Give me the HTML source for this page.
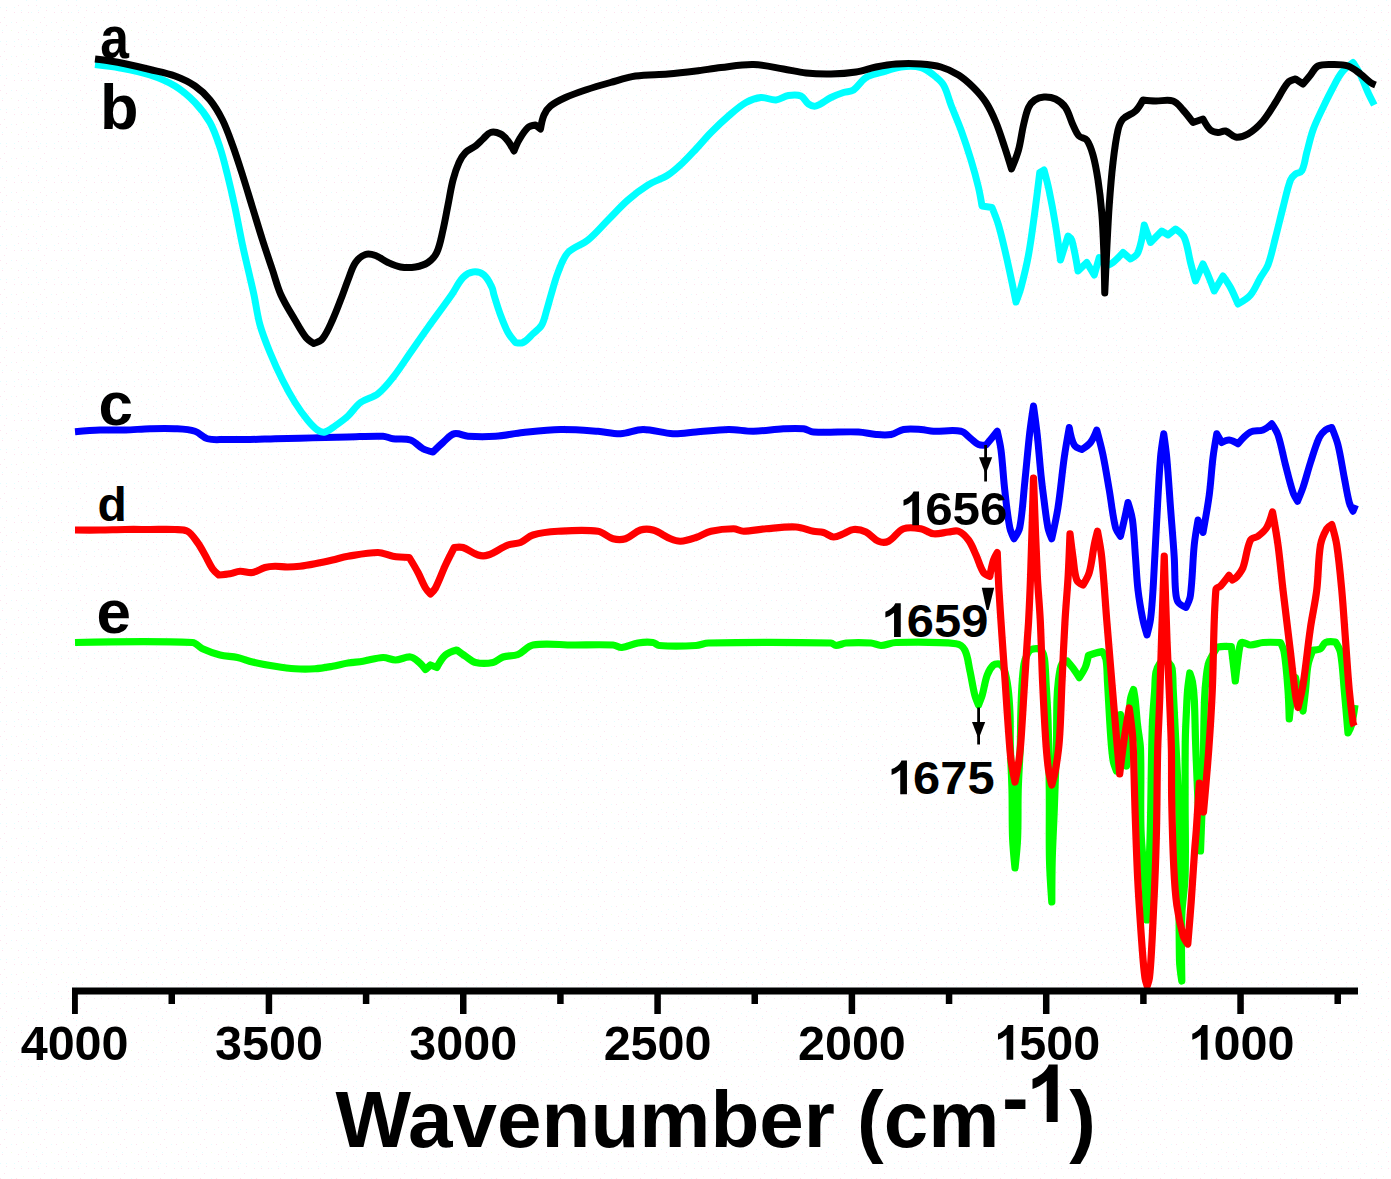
<!DOCTYPE html>
<html><head><meta charset="utf-8"><title>FTIR spectra</title>
<style>
html,body{margin:0;padding:0;background:#ffffff;}
body{width:1391px;height:1179px;overflow:hidden;font-family:"Liberation Sans",sans-serif;}
.b{font-family:"Liberation Sans",sans-serif;font-weight:bold;fill:#000;}
</style></head><body>
<svg width="1391" height="1179" viewBox="0 0 1391 1179" style="display:block">
<defs><pattern id="bg" width="40" height="34" patternUnits="userSpaceOnUse"><rect width="40" height="34" fill="#fff"/><rect x="18" y="5" width="1" height="1" fill="#fde3ef"/><rect x="28" y="5" width="1" height="1" fill="#fde3ef"/><rect x="36" y="5" width="1" height="1" fill="#fde3ef"/><rect x="6" y="10" width="1" height="1" fill="#fde3ef"/><rect x="14" y="12" width="1" height="1" fill="#fde3ef"/><rect x="21" y="12" width="1" height="1" fill="#fde3ef"/><rect x="28" y="12" width="1" height="1" fill="#fde3ef"/><rect x="38" y="12" width="1" height="1" fill="#fde3ef"/><rect x="4" y="17" width="1" height="1" fill="#fde3ef"/><rect x="16" y="22" width="1" height="1" fill="#fde3ef"/><rect x="6" y="25" width="1" height="1" fill="#fde3ef"/><rect x="26" y="30" width="1" height="1" fill="#fde3ef"/><rect x="18" y="32" width="1" height="1" fill="#fde3ef"/><rect x="33" y="32" width="1" height="1" fill="#fde3ef"/><rect x="2" y="32" width="1" height="1" fill="#fde3ef"/><rect x="0" y="22" width="1" height="1" fill="#fde3ef"/><rect x="26" y="0" width="1" height="1" fill="#e3fdff"/><rect x="36" y="0" width="1" height="1" fill="#e3fdff"/><rect x="0" y="7" width="1" height="1" fill="#e3fdff"/><rect x="6" y="7" width="1" height="1" fill="#e3fdff"/><rect x="14" y="7" width="1" height="1" fill="#e3fdff"/><rect x="21" y="10" width="1" height="1" fill="#e3fdff"/><rect x="38" y="10" width="1" height="1" fill="#e3fdff"/><rect x="31" y="12" width="1" height="1" fill="#e3fdff"/><rect x="11" y="22" width="1" height="1" fill="#e3fdff"/><rect x="28" y="25" width="1" height="1" fill="#e3fdff"/><rect x="21" y="27" width="1" height="1" fill="#e3fdff"/><rect x="36" y="27" width="1" height="1" fill="#e3fdff"/><rect x="2" y="30" width="1" height="1" fill="#e3fdff"/><rect x="23" y="20" width="1" height="1" fill="#f0ffe3"/><rect x="33" y="20" width="1" height="1" fill="#f0ffe3"/><rect x="11" y="30" width="1" height="1" fill="#f0ffe3"/></pattern></defs>
<rect width="1391" height="1179" fill="url(#bg)"/>
<path d="M75 642.5 C75.00 642.50 153.38 640.58 192.5 642.5 C196.43 642.69 198.92 647.12 202.5 648.75 C208.14 651.31 213.99 653.50 220 655 C225.72 656.43 231.74 656.26 237.5 657.5 C242.60 658.60 247.42 660.81 252.5 662 C259.93 663.73 267.46 665.05 275 666.25 C281.64 667.30 288.29 668.33 295 668.75 C301.65 669.17 308.35 669.19 315 668.75 C320.88 668.36 326.69 667.26 332.5 666.25 C337.70 665.34 342.79 663.85 348 663 C352.97 662.19 358.03 662.03 363 661.25 C369.70 660.20 376.22 657.76 383 657.5 C387.25 657.34 391.25 660.08 395.5 660 C400.60 659.91 405.43 656.47 410.5 657 C413.93 657.36 416.60 660.29 419.25 662.5 C421.65 664.50 425.50 669.50 425.5 669.5 C425.50 669.50 430.50 665.00 430.5 665 C430.50 665.00 436.75 667.50 436.75 667.5 C436.75 667.50 441.67 658.35 445.5 655 C448.59 652.30 456.75 650.00 456.75 650 C456.75 650.00 462.52 654.26 465.5 656.25 C468.77 658.43 471.67 661.63 475.5 662.5 C481.19 663.79 487.28 663.64 493 662.5 C496.73 661.75 499.38 658.16 503 657 C507.83 655.46 513.29 656.38 518 654.5 C523.50 652.30 527.17 646.01 533 645 C546.14 642.73 559.67 645.00 573 645 C586.33 645.00 599.68 644.32 613 645 C616.03 645.16 618.73 647.74 621.75 647.5 C627.35 647.05 632.45 643.89 638 643 C642.94 642.21 648.03 641.92 653 642.5 C655.30 642.77 656.94 645.34 659.25 645.5 C671.47 646.35 683.77 646.12 696 645.5 C700.24 645.28 704.25 643.08 708.5 643 C749.33 642.24 790.17 642.20 831 643 C832.86 643.04 834.14 645.50 836 645.5 C839.44 645.50 842.57 643.24 846 643 C854.31 642.41 862.69 642.41 871 643 C874.43 643.24 877.56 645.57 881 645.5 C886.10 645.40 890.90 642.62 896 642.5 C916.00 642.03 936.11 641.58 956 643.75 C959.56 644.14 963.09 646.82 964.75 650 C967.94 656.09 968.26 663.29 969.75 670 C971.59 678.30 972.69 686.76 974.75 695 C975.61 698.45 978.50 705.00 978.5 705 C978.50 705.00 981.25 698.42 982.25 695 C984.17 688.40 984.84 681.43 987.25 675 C988.63 671.32 990.53 667.58 993.5 665 C995.13 663.58 999.90 664.00 999.9 664 C999.90 664.00 1003.31 666.96 1004 669 C1006.07 675.13 1007.16 681.58 1008 688 C1009.17 696.95 1009.64 705.98 1010 715 C1010.40 724.99 1010.03 735.00 1010.3 745 C1010.70 760.01 1011.63 774.99 1012 790 C1012.40 806.00 1011.99 822.01 1012.6 838 C1012.99 848.02 1015.00 868.00 1015 868 C1015.00 868.00 1017.19 848.03 1017.6 838 C1018.26 822.01 1017.74 805.99 1018.2 790 C1018.64 774.99 1019.78 760.01 1020.3 745 C1020.65 735.00 1020.52 725.00 1020.8 715 C1021.08 705.00 1021.37 694.99 1022 685 C1022.44 677.98 1022.84 670.94 1024 664 C1024.52 660.88 1025.69 657.88 1027 655 C1027.84 653.17 1028.69 651.06 1030.4 650 C1032.39 648.76 1034.96 648.40 1037.3 648.6 C1039.05 648.75 1041.00 649.55 1042 651 C1043.59 653.30 1044.14 656.23 1044.5 659 C1045.48 666.62 1045.56 674.33 1046 682 C1046.73 694.66 1047.61 707.32 1048 720 C1048.71 743.33 1049.05 766.66 1049.3 790 C1049.55 813.33 1048.98 836.67 1049.5 860 C1049.81 874.02 1051.80 902.00 1051.8 902 C1051.80 902.00 1051.83 874.00 1052.2 860 C1052.66 842.66 1053.68 825.34 1054.3 808 C1055.11 785.34 1055.93 762.67 1056.5 740 C1056.83 726.67 1056.56 713.33 1057 700 C1057.22 693.32 1057.72 686.64 1058.5 680 C1059.05 675.29 1059.68 670.55 1061 666 C1061.54 664.13 1064.00 661.00 1064 661 C1064.00 661.00 1067.00 660.80 1067 660.8 C1067.00 660.80 1071.27 665.76 1073.2 668.4 C1075.37 671.37 1079.30 677.60 1079.3 677.6 C1079.30 677.60 1083.85 670.77 1085.4 667 C1086.91 663.34 1088.40 655.50 1088.4 655.5 C1088.40 655.50 1093.43 653.73 1096 653 C1098.04 652.42 1102.20 651.60 1102.2 651.6 C1102.20 651.60 1105.51 656.48 1106 659.3 C1107.30 666.77 1107.04 674.43 1107.5 682 C1108.64 700.50 1109.47 719.02 1110.8 737.5 C1111.37 745.35 1111.88 753.24 1113.2 761 C1113.79 764.46 1116.50 771.00 1116.5 771 C1116.50 771.00 1117.77 750.33 1118.5 740 C1119.10 731.50 1120.50 714.50 1120.5 714.5 C1120.50 714.50 1122.01 731.52 1123 740 C1124.01 748.69 1126.50 766.00 1126.5 766 C1126.50 766.00 1128.21 738.67 1129 725 C1129.48 716.67 1129.25 708.28 1130.3 700 C1130.76 696.37 1133.50 689.50 1133.5 689.5 C1133.50 689.50 1134.80 696.48 1135.2 700 C1136.14 708.32 1136.60 716.68 1137.5 725 C1138.37 733.02 1140.23 740.94 1140.5 749 C1141.40 775.99 1140.14 803.01 1141 830 C1141.54 847.04 1143.60 863.99 1144.7 881 C1145.54 893.99 1146.80 920.00 1146.8 920 C1146.80 920.00 1147.99 894.00 1148.5 881 C1149.16 864.00 1149.88 847.01 1150.3 830 C1151.15 795.20 1151.21 760.39 1152.3 725.6 C1152.67 713.71 1153.88 701.87 1154.7 690 C1155.11 684.00 1154.84 677.90 1156 672 C1156.63 668.78 1158.09 665.67 1160 663 C1160.95 661.67 1164.20 660.50 1164.2 660.5 C1164.20 660.50 1167.70 661.75 1169 663 C1170.40 664.35 1171.70 666.08 1172 668 C1173.13 675.26 1172.82 682.67 1173.2 690 C1173.82 701.87 1174.43 713.73 1175 725.6 C1176.19 750.40 1177.55 775.19 1178.5 800 C1178.88 809.99 1178.94 820.00 1179 830 C1179.27 873.33 1178.70 916.67 1179.5 960 C1179.63 967.04 1181.80 981.00 1181.8 981 C1181.80 981.00 1181.11 936.99 1181.8 915 C1182.21 901.96 1184.73 889.04 1185.1 876 C1185.83 850.68 1185.06 825.33 1185.1 800 C1185.13 780.00 1184.99 760.00 1185.3 740 C1185.46 729.99 1186.04 720.00 1186.5 710 C1186.81 703.33 1187.01 696.65 1187.6 690 C1188.11 684.31 1189.80 673.00 1189.8 673 C1189.80 673.00 1191.99 678.91 1192.5 682 C1193.49 687.95 1193.99 693.98 1194.3 700 C1194.99 713.32 1195.03 726.67 1195.5 740 C1196.09 756.67 1196.75 773.34 1197.5 790 C1198.42 810.34 1200.50 851.00 1200.5 851 C1200.50 851.00 1202.37 803.67 1203 780 C1203.71 753.34 1203.61 726.66 1204.5 700 C1204.78 691.64 1205.52 683.30 1206.5 675 C1207.02 670.62 1207.51 666.15 1209 662 C1210.54 657.72 1213.16 653.90 1215.5 650 C1216.17 648.88 1216.73 647.27 1218 647 C1222.34 646.09 1231.30 646.70 1231.3 646.7 C1231.30 646.70 1232.91 660.23 1233.7 667 C1234.24 671.67 1235.30 681.00 1235.3 681 C1235.30 681.00 1237.28 663.65 1238.5 655 C1239.02 651.31 1239.24 647.51 1240.5 644 C1240.83 643.09 1242.03 642.40 1243 642.5 C1245.62 642.76 1247.86 645.00 1250.5 645 C1254.75 645.00 1258.77 642.85 1263 642.5 C1268.81 642.02 1280.50 642.50 1280.5 642.5 C1280.50 642.50 1283.69 648.98 1284.25 652.5 C1286.21 664.91 1287.06 677.47 1288 690 C1288.73 699.65 1289.25 719.00 1289.25 719 C1289.25 719.00 1290.80 702.96 1292 695 C1292.89 689.12 1295.50 677.50 1295.5 677.5 C1295.50 677.50 1297.70 689.19 1299 695 C1300.20 700.36 1303.00 711.00 1303 711 C1303.00 711.00 1304.74 697.01 1305.5 690 C1306.40 681.67 1306.46 673.23 1308 665 C1308.97 659.82 1313.00 650.00 1313 650 C1313.00 650.00 1318.33 650.05 1320.5 648.75 C1322.79 647.38 1323.07 643.59 1325.5 642.5 C1328.54 641.13 1335.50 642.00 1335.5 642 C1335.50 642.00 1339.80 648.69 1340.5 652.5 C1342.75 664.86 1343.08 677.49 1344.25 690 C1345.58 704.33 1348.00 733.00 1348 733 C1348.00 733.00 1350.79 727.82 1351.5 725 C1353.14 718.43 1355.00 705.00 1355 705" stroke="#00ff00" stroke-width="7.2" fill="none" stroke-linejoin="round" stroke-linecap="butt"/>
<path d="M75 530 C75.00 530.00 91.67 530.08 100 530 C108.33 529.92 116.67 529.58 125 529.5 C133.33 529.42 141.67 529.50 150 529.5 C158.33 529.50 166.68 529.11 175 529.5 C179.20 529.70 183.86 529.15 187.5 531.25 C191.84 533.76 194.52 538.46 197.5 542.5 C200.38 546.41 202.59 550.78 205 555 C207.59 559.53 209.54 564.45 212.5 568.75 C214.17 571.18 218.75 575.00 218.75 575 C218.75 575.00 226.28 574.41 230 573.75 C233.38 573.15 236.57 571.44 240 571.25 C244.18 571.02 248.36 573.12 252.5 572.5 C256.94 571.83 260.68 568.70 265 567.5 C268.24 566.60 271.64 566.32 275 566.25 C279.17 566.16 283.33 567.00 287.5 567 C291.67 567.00 295.85 566.74 300 566.25 C305.03 565.66 310.02 564.71 315 563.75 C320.86 562.62 326.68 561.32 332.5 560 C337.68 558.82 342.76 557.11 348 556.25 C357.94 554.61 367.92 552.50 378 552.5 C383.15 552.50 387.91 555.44 393 556.25 C398.36 557.11 409.25 557.50 409.25 557.5 C409.25 557.50 415.28 567.39 418 572.5 C420.70 577.57 422.62 583.04 425.5 588 C426.81 590.25 430.50 594.00 430.5 594 C430.50 594.00 434.30 590.31 435.5 588 C439.34 580.57 441.99 572.59 445.5 565 C448.24 559.08 454.25 547.50 454.25 547.5 C454.25 547.50 460.22 546.62 463 547.5 C468.33 549.18 472.65 553.39 478 555 C481.19 555.96 484.84 556.05 488 555 C495.07 552.64 501.04 547.68 508 545 C511.97 543.47 516.55 544.08 520.5 542.5 C525.01 540.70 528.35 536.40 533 535 C541.07 532.58 549.59 531.74 558 531.25 C571.31 530.48 584.79 529.45 598 531.25 C603.54 532.01 607.61 537.28 613 538.75 C617.02 539.85 621.53 540.01 625.5 538.75 C631.02 536.99 634.98 531.76 640.5 530 C644.47 528.74 649.00 528.83 653 530 C659.26 531.83 664.46 536.28 670.5 538.75 C673.68 540.05 677.07 541.42 680.5 541.25 C685.81 540.99 690.95 539.16 696 537.5 C701.15 535.81 705.73 532.48 711 531.25 C718.35 529.54 725.95 528.75 733.5 528.75 C736.94 528.75 740.06 531.25 743.5 531.25 C751.05 531.25 758.48 529.36 766 528.75 C775.98 527.94 786.00 526.47 796 527 C801.99 527.32 807.61 530.07 813.5 531.25 C816.79 531.91 820.27 531.57 823.5 532.5 C827.01 533.51 829.85 536.77 833.5 537 C837.00 537.22 840.22 534.98 843.5 533.75 C846.89 532.48 849.89 529.78 853.5 529.5 C857.74 529.17 862.15 530.19 866 532 C870.69 534.20 873.71 539.28 878.5 541.25 C881.58 542.52 885.52 542.74 888.5 541.25 C894.32 538.34 897.43 531.09 903.5 528.75 C908.94 526.66 915.25 527.79 921 528.75 C925.43 529.49 929.04 533.22 933.5 533.75 C938.50 534.34 943.49 532.50 948.5 532 C951.83 531.67 955.40 530.01 958.5 531.25 C962.61 532.89 965.87 536.43 968.5 540 C971.82 544.50 973.66 549.92 976 555 C978.66 560.76 980.05 567.17 983.5 572.5 C984.82 574.54 989.75 576.25 989.75 576.25 C989.75 576.25 991.83 565.30 993.5 560 C994.34 557.33 997.25 552.50 997.25 552.5 C997.25 552.50 998.28 577.84 999 590.5 C999.87 605.81 1000.97 621.10 1002 636.4 C1003.03 651.67 1004.15 666.93 1005.2 682.2 C1006.25 697.47 1007.16 712.74 1008.3 728 C1009.10 738.67 1009.68 749.38 1011 760 C1011.92 767.40 1015.00 782.00 1015 782 C1015.00 782.00 1017.95 767.38 1019 760 C1019.95 753.37 1020.52 746.68 1021 740 C1022.39 720.75 1023.39 701.47 1024.6 682.2 C1025.49 668.13 1026.38 654.07 1027.3 640 C1027.71 633.67 1028.28 627.34 1028.6 621 C1029.38 605.77 1030.08 590.54 1030.6 575.3 C1031.71 542.87 1033.50 478.00 1033.5 478 C1033.50 478.00 1035.76 542.88 1037.3 575.3 C1038.03 590.55 1039.54 605.75 1040.3 621 C1041.31 641.39 1041.67 661.81 1042.6 682.2 C1043.47 701.47 1044.41 720.75 1045.7 740 C1046.37 750.02 1047.15 760.05 1048.5 770 C1049.19 775.07 1051.80 785.00 1051.8 785 C1051.80 785.00 1054.64 775.08 1055.5 770 C1057.18 760.06 1058.66 750.06 1059.4 740 C1060.82 720.77 1061.09 701.46 1062 682.2 C1062.96 661.80 1063.82 641.39 1065 621 C1065.88 605.75 1067.33 590.55 1068.2 575.3 C1068.99 561.46 1070.00 533.75 1070 533.75 C1070.00 533.75 1071.85 549.60 1073 557.5 C1074.10 565.02 1074.15 572.85 1076.75 580 C1077.66 582.51 1083.00 585.00 1083 585 C1083.00 585.00 1087.99 576.98 1089.25 572.5 C1091.77 563.53 1092.42 554.14 1094.25 545 C1095.17 540.38 1097.50 531.25 1097.5 531.25 C1097.50 531.25 1100.84 548.68 1101.75 557.5 C1103.94 578.62 1105.09 599.84 1106.8 621 C1108.04 636.34 1109.33 651.67 1110.6 667 C1111.86 682.23 1113.13 697.47 1114.4 712.7 C1115.16 721.80 1115.91 730.90 1116.7 740 C1117.68 751.34 1119.70 774.00 1119.7 774 C1119.70 774.00 1122.65 749.64 1124.4 737.5 C1125.82 727.64 1129.20 708.00 1129.2 708 C1129.20 708.00 1132.02 727.62 1132.75 737.5 C1133.62 749.31 1133.63 761.17 1134 773 C1134.38 784.93 1134.58 796.87 1135 808.8 C1135.85 832.87 1136.54 856.95 1137.8 881 C1139.04 904.85 1140.73 928.68 1142.5 952.5 C1143.13 961.02 1143.81 969.54 1145 978 C1145.38 980.74 1147.20 986.00 1147.2 986 C1147.20 986.00 1149.06 980.74 1149.4 978 C1150.46 969.54 1150.92 961.01 1151.4 952.5 C1152.68 929.91 1153.76 907.31 1154.7 884.7 C1155.46 866.47 1156.10 848.24 1156.5 830 C1157.10 803.14 1157.04 776.26 1157.7 749.4 C1158.11 732.92 1159.13 716.47 1159.7 700 C1160.39 680.00 1160.87 660.00 1161.5 640 C1162.38 612.00 1164.25 556.00 1164.25 556 C1164.25 556.00 1165.96 612.00 1167 640 C1167.74 660.00 1168.80 680.00 1169.6 700 C1170.26 716.46 1171.05 732.93 1171.4 749.4 C1171.75 766.26 1171.36 783.14 1171.7 800 C1172.16 822.61 1172.70 845.22 1173.8 867.8 C1174.40 880.23 1175.10 892.68 1176.8 905 C1178.24 915.45 1180.34 925.84 1183.2 936 C1184.04 938.96 1187.80 944.00 1187.8 944 C1187.80 944.00 1190.17 915.81 1191.2 901.7 C1192.44 884.74 1193.39 867.76 1194.6 850.8 C1195.09 843.86 1195.82 836.94 1196.3 830 C1197.39 814.34 1199.30 783.00 1199.3 783 C1199.30 783.00 1203.50 812.00 1203.5 812 C1203.50 812.00 1207.28 770.02 1208.8 749 C1210.22 729.35 1211.42 709.68 1212.3 690 C1213.79 656.58 1213.24 623.05 1215.9 589.7 C1216.06 587.71 1219.25 587.47 1220.6 586 C1223.65 582.68 1229.00 575.40 1229 575.4 C1229.00 575.40 1232.50 580.00 1232.5 580 C1232.50 580.00 1235.79 578.04 1237 576.6 C1239.34 573.82 1241.74 570.91 1243 567.5 C1246.29 558.59 1246.39 548.57 1250.5 540 C1251.71 537.48 1255.78 537.95 1258 536.25 C1261.27 533.74 1264.63 531.04 1266.75 527.5 C1269.58 522.77 1272.50 512.00 1272.5 512 C1272.50 512.00 1276.51 533.95 1278 545 C1280.01 559.96 1281.26 575.01 1283 590 C1285.42 610.84 1288.02 631.66 1290.5 652.5 C1292.19 666.66 1293.57 680.87 1295.5 695 C1296.07 699.21 1298.00 707.50 1298 707.5 C1298.00 707.50 1301.81 692.59 1303 685 C1305.98 665.90 1307.73 646.63 1310.5 627.5 C1312.32 614.96 1315.23 602.58 1316.75 590 C1318.56 575.06 1318.07 559.86 1320.5 545 C1321.44 539.27 1323.96 533.84 1326.75 528.75 C1327.80 526.83 1331.75 524.50 1331.75 524.5 C1331.75 524.50 1335.69 538.05 1336.75 545 C1339.03 559.92 1340.37 574.97 1341.75 590 C1343.28 606.64 1344.25 623.33 1345.5 640 C1346.75 656.67 1347.74 673.36 1349.25 690 C1350.24 700.86 1351.50 711.70 1353 722.5 C1353.17 723.73 1354.25 726.00 1354.25 726" stroke="#ff0000" stroke-width="7.2" fill="none" stroke-linejoin="round" stroke-linecap="butt"/>
<path d="M75 431.75 C75.00 431.75 91.65 430.29 100 430 C108.33 429.71 116.67 430.21 125 430 C133.34 429.79 141.66 428.96 150 428.75 C158.33 428.54 166.68 428.29 175 428.75 C181.71 429.12 188.58 429.27 195 431.25 C199.64 432.68 202.81 437.46 207.5 438.75 C213.13 440.30 219.16 439.40 225 439.5 C233.33 439.65 241.67 439.62 250 439.5 C258.34 439.37 266.67 438.96 275 438.75 C283.33 438.54 291.67 438.46 300 438.25 C308.33 438.04 316.67 437.72 325 437.5 C332.67 437.30 340.33 437.17 348 437 C359.67 436.75 371.34 435.80 383 436.25 C386.43 436.38 389.60 438.29 393 438.75 C398.79 439.54 404.95 438.15 410.5 440 C415.33 441.61 418.51 446.36 423 448.75 C426.09 450.40 433.00 452.00 433 452 C433.00 452.00 439.51 445.50 443 442.5 C446.60 439.40 449.64 434.90 454.25 433.75 C458.77 432.62 463.35 435.97 468 436.25 C477.15 436.80 486.35 436.87 495.5 436.25 C504.73 435.62 513.80 433.46 523 432.5 C535.47 431.20 547.96 429.71 560.5 429.5 C573.01 429.29 585.52 430.37 598 431.25 C605.53 431.78 612.96 434.04 620.5 433.75 C628.13 433.45 635.37 429.50 643 429.5 C653.10 429.50 662.91 433.27 673 433.75 C680.68 434.11 688.33 432.59 696 432 C706.83 431.17 717.64 429.64 728.5 429.5 C736.85 429.39 745.15 431.36 753.5 431.25 C763.53 431.11 773.48 429.25 783.5 428.75 C790.16 428.42 796.87 428.03 803.5 428.75 C806.98 429.13 810.00 431.79 813.5 432 C828.47 432.88 843.51 431.40 858.5 432 C864.39 432.24 870.12 434.05 876 434.5 C880.99 434.88 886.08 435.39 891 434.5 C895.42 433.70 899.07 430.24 903.5 429.5 C909.25 428.54 915.18 429.16 921 429.5 C925.20 429.75 929.30 431.07 933.5 431.25 C942.66 431.65 952.01 429.45 961 431.25 C965.09 432.07 967.68 436.23 971 438.75 C973.51 440.65 975.59 443.29 978.5 444.5 C980.81 445.46 986.00 445.00 986 445 C986.00 445.00 990.19 440.02 992.25 437.5 C993.94 435.44 997.25 431.25 997.25 431.25 C997.25 431.25 1000.19 443.68 1001 450 C1002.70 463.28 1003.25 476.69 1004.75 490 C1006.16 502.53 1007.40 515.11 1009.75 527.5 C1010.50 531.44 1014.00 538.75 1014 538.75 C1014.00 538.75 1018.96 531.64 1019.75 527.5 C1022.58 512.68 1023.17 497.51 1024.75 482.5 C1026.50 465.84 1027.85 449.14 1029.75 432.5 C1030.76 423.64 1033.50 406.00 1033.5 406 C1033.50 406.00 1036.20 425.31 1037.25 435 C1038.70 448.31 1039.62 461.68 1041 475 C1041.87 483.35 1042.90 491.68 1044 500 C1045.23 509.35 1046.15 518.75 1048 528 C1048.74 531.72 1051.75 538.75 1051.75 538.75 C1051.75 538.75 1056.38 518.00 1058 507.5 C1060.55 490.90 1061.91 474.13 1064.25 457.5 C1065.66 447.46 1069.25 427.50 1069.25 427.5 C1069.25 427.50 1071.25 439.73 1074.25 445 C1075.69 447.53 1081.75 449.50 1081.75 449.5 C1081.75 449.50 1088.22 445.46 1090.5 442.5 C1093.34 438.81 1096.75 430.00 1096.75 430 C1096.75 430.00 1101.25 446.59 1103 455 C1105.42 466.60 1107.24 478.32 1109.25 490 C1111.40 502.49 1112.50 515.19 1115.5 527.5 C1116.29 530.76 1120.50 536.25 1120.5 536.25 C1120.50 536.25 1123.04 525.43 1124.25 520 C1125.54 514.18 1128.00 502.50 1128 502.5 C1128.00 502.50 1131.69 514.03 1132.5 520 C1134.19 532.42 1134.52 545.00 1135.5 557.5 C1136.35 568.33 1136.73 579.21 1138 590 C1139.16 599.86 1140.85 609.66 1142.8 619.4 C1143.86 624.68 1147.00 635.00 1147 635 C1147.00 635.00 1149.80 624.68 1150.5 619.4 C1151.80 609.65 1152.38 599.82 1153 590 C1154.47 566.68 1155.43 543.33 1156.75 520 C1157.93 499.16 1158.81 478.30 1160.5 457.5 C1161.15 449.54 1163.75 433.75 1163.75 433.75 C1163.75 433.75 1166.02 449.55 1166.75 457.5 C1168.27 474.14 1169.25 490.83 1170.5 507.5 C1171.75 524.17 1173.24 540.82 1174.25 557.5 C1174.91 568.32 1174.59 579.20 1175.5 590 C1175.84 594.07 1175.90 598.50 1178 602 C1179.66 604.77 1186.00 607.50 1186 607.5 C1186.00 607.50 1189.85 599.79 1190.4 595.6 C1192.61 578.83 1192.56 561.83 1194.25 545 C1195.09 536.62 1198.00 520.00 1198 520 C1198.00 520.00 1203.00 532.50 1203 532.5 C1203.00 532.50 1207.58 507.56 1209.25 495 C1210.91 482.55 1211.47 469.97 1213 457.5 C1213.97 449.54 1216.75 433.75 1216.75 433.75 C1216.75 433.75 1221.75 442.50 1221.75 442.5 C1221.75 442.50 1226.62 439.80 1229.25 440 C1232.41 440.24 1238.00 443.75 1238 443.75 C1238.00 443.75 1245.49 434.76 1250.5 432 C1254.20 429.97 1259.07 431.53 1263 430 C1266.34 428.70 1271.75 423.75 1271.75 423.75 C1271.75 423.75 1276.64 430.93 1278 435 C1281.26 444.78 1282.90 455.03 1285.5 465 C1287.90 474.19 1290.01 483.48 1293 492.5 C1294.03 495.61 1297.50 501.25 1297.5 501.25 C1297.50 501.25 1301.43 492.18 1303 487.5 C1305.77 479.25 1307.81 470.77 1310.5 462.5 C1313.23 454.10 1315.55 445.52 1319.25 437.5 C1320.61 434.55 1322.96 432.03 1325.5 430 C1327.25 428.60 1331.75 427.50 1331.75 427.5 C1331.75 427.50 1336.50 438.99 1338 445 C1340.68 455.70 1342.13 466.67 1344.25 477.5 C1345.88 485.84 1347.12 494.27 1349.25 502.5 C1350.05 505.57 1353.00 511.25 1353 511.25 C1353.00 511.25 1355.50 505.00 1355.5 505" stroke="#0000ff" stroke-width="7" fill="none" stroke-linejoin="round" stroke-linecap="butt"/>
<path d="M95 64.6 C95.00 64.60 111.74 66.44 120 68 C130.09 69.91 140.24 71.81 150 75 C158.65 77.83 167.23 81.25 175 86 C182.37 90.51 189.02 96.26 195 102.5 C200.77 108.51 205.95 115.22 210 122.5 C214.36 130.35 217.16 138.99 220 147.5 C223.00 156.51 225.20 165.78 227.5 175 C230.20 185.79 232.67 196.63 235 207.5 C237.67 219.96 239.83 232.54 242.5 245 C244.83 255.87 247.51 266.66 250 277.5 C251.34 283.33 252.77 289.14 254 295 C256.10 304.98 257.27 315.18 260 325 C262.61 334.40 266.31 343.47 270 352.5 C273.81 361.82 278.00 370.99 282.5 380 C286.34 387.67 290.45 395.22 295 402.5 C298.80 408.58 302.96 414.45 307.5 420 C310.49 423.65 313.61 427.33 317.5 430 C319.63 431.46 322.48 432.58 325 432 C328.79 431.13 331.81 428.22 335 426 C339.49 422.88 343.98 419.70 348 416 C352.51 411.84 355.57 406.15 360.5 402.5 C365.74 398.61 372.83 397.73 378 393.75 C383.84 389.26 388.44 383.29 393 377.5 C399.30 369.51 404.67 360.83 410.5 352.5 C416.33 344.17 422.09 335.78 428 327.5 C435.76 316.62 443.83 305.95 451.5 295 C455.50 289.28 458.23 282.60 463 277.5 C465.60 274.72 469.22 272.45 473 272 C476.77 271.55 481.06 272.60 484 275 C487.83 278.13 489.79 283.08 492 287.5 C493.16 289.81 493.24 292.53 494 295 C496.07 301.70 498.05 308.43 500.5 315 C502.72 320.95 504.96 326.93 508 332.5 C510.00 336.16 515.50 342.50 515.5 342.5 C515.50 342.50 520.76 343.62 523 342.5 C526.96 340.52 529.76 336.77 533 333.75 C536.02 330.94 539.68 328.57 541.75 325 C544.39 320.44 545.20 315.04 546.75 310 C548.28 305.03 549.51 299.98 551 295 C553.26 287.48 555.08 279.79 558 272.5 C560.77 265.58 562.94 257.98 568 252.5 C573.33 246.72 581.90 244.96 588 240 C595.32 234.05 601.33 226.67 608 220 C614.67 213.33 620.90 206.21 628 200 C634.27 194.51 640.93 189.42 648 185 C654.32 181.05 661.73 179.03 668 175 C673.47 171.48 678.23 166.93 683 162.5 C687.58 158.25 691.74 153.57 696 149 C701.07 143.57 705.78 137.80 711 132.5 C716.63 126.79 722.41 121.22 728.5 116 C734.09 111.21 739.60 106.14 746 102.5 C750.58 99.89 755.75 97.94 761 97.5 C766.05 97.08 770.94 100.37 776 100 C780.42 99.68 784.13 96.20 788.5 95.5 C792.62 94.84 797.16 94.37 801 96 C804.36 97.43 805.46 101.97 808.5 104 C810.65 105.44 813.51 106.72 816 106 C821.52 104.40 825.84 100.03 831 97.5 C835.03 95.52 839.24 93.92 843.5 92.5 C846.76 91.41 850.64 91.91 853.5 90 C858.40 86.73 861.03 80.66 866 77.5 C870.45 74.67 875.95 74.01 881 72.5 C887.62 70.51 894.14 67.86 901 67 C907.62 66.17 914.52 65.91 921 67.5 C925.72 68.66 929.66 72.02 933.5 75 C937.22 77.89 941.12 80.93 943.5 85 C947.09 91.15 948.42 98.36 951 105 C954.25 113.36 957.93 121.57 961 130 C964.60 139.91 967.93 149.92 971 160 C973.77 169.09 976.29 178.26 978.5 187.5 C979.96 193.60 982.00 206.00 982 206 C982.00 206.00 992.00 207.50 992 207.5 C992.00 207.50 996.74 219.03 998.5 225 C1001.41 234.89 1003.64 244.97 1006 255 C1008.14 264.13 1010.05 273.32 1012 282.5 C1013.38 288.99 1016.00 302.00 1016 302 C1016.00 302.00 1019.69 292.44 1021 287.5 C1023.86 276.76 1026.50 265.94 1028.5 255 C1031.08 240.92 1032.82 226.69 1034.75 212.5 C1036.57 199.19 1039.75 172.50 1039.75 172.5 C1039.75 172.50 1044.00 170.00 1044 170 C1044.00 170.00 1047.59 183.27 1049 190 C1051.43 201.61 1053.58 213.29 1055.5 225 C1057.41 236.63 1060.50 260.00 1060.5 260 C1060.50 260.00 1068.00 236.00 1068 236 C1068.00 236.00 1071.25 238.24 1071.75 240 C1074.65 250.14 1078.00 271.00 1078 271 C1078.00 271.00 1086.75 262.50 1086.75 262.5 C1086.75 262.50 1094.25 275.00 1094.25 275 C1094.25 275.00 1099.25 257.50 1099.25 257.5 C1099.25 257.50 1106.00 266.00 1106 266 C1106.00 266.00 1110.96 264.12 1113 262.5 C1116.69 259.57 1123.00 252.50 1123 252.5 C1123.00 252.50 1130.50 259.00 1130.5 259 C1130.50 259.00 1136.76 255.57 1138 252.5 C1141.52 243.79 1144.25 225.00 1144.25 225 C1144.25 225.00 1150.50 242.50 1150.5 242.5 C1150.50 242.50 1161.75 231.00 1161.75 231 C1161.75 231.00 1168.00 235.00 1168 235 C1168.00 235.00 1175.50 229.00 1175.5 229 C1175.50 229.00 1182.59 233.79 1184.25 237.5 C1187.76 245.34 1188.35 254.18 1190.5 262.5 C1192.10 268.68 1195.50 281.00 1195.5 281 C1195.50 281.00 1203.00 264.00 1203 264 C1203.00 264.00 1206.45 271.28 1208 275 C1210.20 280.29 1214.25 291.00 1214.25 291 C1214.25 291.00 1223.00 276.00 1223 276 C1223.00 276.00 1228.34 283.47 1230.5 287.5 C1233.35 292.83 1238.00 304.00 1238 304 C1238.00 304.00 1247.18 298.91 1250.5 295 C1254.85 289.88 1257.11 283.30 1260.5 277.5 C1262.95 273.30 1266.29 269.55 1268 265 C1271.34 256.10 1273.10 246.69 1275.5 237.5 C1278.10 227.53 1280.40 217.47 1283 207.5 C1285.40 198.31 1287.18 188.90 1290.5 180 C1291.41 177.56 1293.47 175.63 1295.5 174 C1297.30 172.56 1300.68 173.05 1301.75 171 C1304.71 165.34 1305.06 158.66 1306.75 152.5 C1308.81 144.99 1310.36 137.32 1313 130 C1315.79 122.28 1319.51 114.93 1323 107.5 C1326.17 100.76 1329.48 94.07 1333 87.5 C1335.73 82.40 1338.13 77.02 1341.75 72.5 C1344.88 68.58 1353.00 62.50 1353 62.5 C1353.00 62.50 1358.33 70.65 1360.5 75 C1363.34 80.68 1365.36 86.73 1368 92.5 C1369.94 96.73 1374.25 105.00 1374.25 105" stroke="#00ffff" stroke-width="7" fill="none" stroke-linejoin="round" stroke-linecap="butt"/>
<path d="M95 59 C95.00 59.00 105.02 60.21 110 61 C115.02 61.79 120.03 62.69 125 63.75 C133.36 65.53 141.69 67.47 150 69.5 C158.36 71.55 166.92 73.04 175 76 C182.00 78.57 188.85 81.78 195 86 C200.64 89.87 205.70 94.68 210 100 C214.94 106.11 218.98 112.97 222.5 120 C226.51 128.03 229.43 136.57 232.5 145 C236.10 154.91 239.29 164.96 242.5 175 C245.95 185.80 249.17 196.67 252.5 207.5 C255.83 218.33 259.05 229.20 262.5 240 C265.71 250.04 269.14 260.01 272.5 270 C275.31 278.34 277.39 286.97 281 295 C284.92 303.71 290.16 311.77 295 320 C298.49 325.94 301.70 332.11 306 337.5 C308.04 340.05 313.75 343.50 313.75 343.5 C313.75 343.50 320.43 341.34 322.5 338.75 C326.92 333.21 329.56 326.44 332.5 320 C336.23 311.84 339.26 303.37 342.5 295 C344.42 290.03 346.02 284.94 348 280 C350.36 274.11 351.91 267.73 355.5 262.5 C357.92 258.98 361.47 255.91 365.5 254.5 C368.66 253.39 372.34 254.38 375.5 255.5 C380.00 257.10 383.66 260.50 388 262.5 C392.02 264.35 396.13 266.28 400.5 267 C405.43 267.81 410.57 267.81 415.5 267 C419.87 266.28 424.34 265.00 428 262.5 C431.66 260.00 434.89 256.52 436.75 252.5 C440.01 245.43 441.21 237.57 443 230 C444.96 221.73 446.33 213.33 448 205 C449.67 196.67 450.87 188.23 453 180 C454.55 174.03 456.45 168.11 459 162.5 C460.65 158.88 462.69 155.31 465.5 152.5 C468.31 149.69 472.35 148.43 475.5 146 C478.21 143.91 480.46 141.29 483 139 C485.46 136.79 487.32 133.41 490.5 132.5 C493.74 131.57 497.47 132.53 500.5 134 C503.58 135.49 505.87 138.32 508 141 C510.42 144.04 514.00 151.00 514 151 C514.00 151.00 516.94 143.46 519 140 C521.63 135.59 524.20 130.95 528 127.5 C529.95 125.73 535.50 125.00 535.5 125 C535.50 125.00 540.50 129.00 540.5 129 C540.50 129.00 542.08 119.41 544 115 C545.48 111.61 547.63 108.34 550.5 106 C554.96 102.37 560.27 99.89 565.5 97.5 C571.98 94.54 578.75 92.25 585.5 90 C593.75 87.25 602.12 84.85 610.5 82.5 C618.79 80.18 626.98 77.26 635.5 76 C646.24 74.41 657.18 74.89 668 74 C677.35 73.23 686.68 72.14 696 71 C704.35 69.98 712.64 68.45 721 67.5 C731.81 66.28 742.62 64.24 753.5 64.5 C763.61 64.74 773.52 67.38 783.5 69 C791.02 70.22 798.42 72.20 806 73 C814.29 73.87 822.66 74.17 831 74 C839.36 73.83 847.74 73.28 856 72 C862.79 70.94 869.26 68.35 876 67 C882.61 65.68 889.27 64.45 896 64 C904.31 63.45 912.69 63.45 921 64 C927.73 64.45 934.53 65.10 941 67 C947.15 68.81 953.08 71.58 958.5 75 C964.00 78.47 968.90 82.90 973.5 87.5 C978.10 92.10 982.48 97.03 986 102.5 C990.03 108.77 993.13 115.62 996 122.5 C999.40 130.65 1001.96 139.12 1004.75 147.5 C1007.13 154.63 1011.50 169.00 1011.5 169 C1011.50 169.00 1016.72 156.51 1018.5 150 C1020.74 141.80 1021.55 133.27 1023.5 125 C1024.89 119.09 1026.01 113.03 1028.5 107.5 C1029.84 104.53 1032.06 101.83 1034.75 100 C1037.43 98.18 1040.76 97.16 1044 97 C1047.89 96.81 1052.00 97.29 1055.5 99 C1059.43 100.92 1063.06 103.87 1065.5 107.5 C1069.04 112.76 1070.28 119.26 1073 125 C1074.79 128.77 1076.18 132.92 1079 136 C1080.96 138.14 1085.03 137.66 1086.75 140 C1089.96 144.36 1091.53 149.79 1093 155 C1095.30 163.18 1096.72 171.60 1098 180 C1099.64 190.78 1100.86 201.63 1101.75 212.5 C1102.77 224.98 1103.28 237.49 1103.75 250 C1104.28 264.33 1104.75 293.00 1104.75 293 C1104.75 293.00 1106.02 264.33 1106.75 250 C1107.52 235.00 1108.18 219.98 1109.25 205 C1110.26 190.81 1111.35 176.63 1113 162.5 C1114.27 151.61 1115.54 140.68 1118 130 C1118.90 126.07 1120.27 121.96 1123 119 C1126.35 115.36 1131.91 114.41 1135.5 111 C1138.72 107.94 1143.00 100.00 1143 100 C1143.00 100.00 1151.32 100.86 1155.5 101 C1161.33 101.19 1167.46 99.19 1173 101 C1177.26 102.39 1179.95 106.72 1183 110 C1186.63 113.91 1193.00 122.50 1193 122.5 C1193.00 122.50 1203.00 119.00 1203 119 C1203.00 119.00 1207.20 127.03 1210.5 130 C1212.46 131.76 1215.37 132.32 1218 132.5 C1220.54 132.67 1223.03 130.37 1225.5 131 C1229.26 131.97 1231.65 136.49 1235.5 137 C1239.75 137.57 1244.30 136.15 1248 134 C1253.72 130.67 1258.65 125.98 1263 121 C1267.89 115.39 1271.45 108.74 1275.5 102.5 C1279.78 95.91 1282.90 88.49 1288 82.5 C1289.79 80.40 1295.50 79.00 1295.5 79 C1295.50 79.00 1303.00 84.00 1303 84 C1303.00 84.00 1308.00 78.00 1310.5 75 C1313.00 72.00 1314.46 67.65 1318 66 C1322.55 63.88 1327.98 64.50 1333 64.5 C1338.02 64.50 1343.25 64.36 1348 66 C1352.68 67.62 1356.51 71.07 1360.5 74 C1364.03 76.59 1366.97 79.91 1370.5 82.5 C1372.00 83.60 1375.50 85.00 1375.5 85" stroke="#000" stroke-width="7" fill="none" stroke-linejoin="round" stroke-linecap="butt"/>
<rect x="72" y="987.5" width="1286" height="7" fill="#000"/>
<rect x="72.00" y="991" width="5.85" height="23" fill="#000"/>
<rect x="168.51" y="991" width="6.5" height="13" fill="#000"/>
<rect x="265.67" y="991" width="6.5" height="23" fill="#000"/>
<rect x="362.84" y="991" width="6.5" height="13" fill="#000"/>
<rect x="460.00" y="991" width="6.5" height="23" fill="#000"/>
<rect x="557.16" y="991" width="6.5" height="13" fill="#000"/>
<rect x="654.33" y="991" width="6.5" height="23" fill="#000"/>
<rect x="751.49" y="991" width="6.5" height="13" fill="#000"/>
<rect x="848.65" y="991" width="6.5" height="23" fill="#000"/>
<rect x="945.81" y="991" width="6.5" height="13" fill="#000"/>
<rect x="1042.97" y="991" width="6.5" height="23" fill="#000"/>
<rect x="1140.14" y="991" width="6.5" height="13" fill="#000"/>
<rect x="1237.30" y="991" width="6.5" height="23" fill="#000"/>
<rect x="1334.46" y="991" width="6.5" height="13" fill="#000"/>
<text x="20.65" y="1059.8" font-size="48.5" class="b">4</text><text x="47.63" y="1059.8" font-size="48.5" class="b">0</text><text x="74.60" y="1059.8" font-size="48.5" class="b">0</text><text x="101.57" y="1059.8" font-size="48.5" class="b">0</text>
<text x="214.98" y="1059.8" font-size="48.5" class="b">3</text><text x="241.95" y="1059.8" font-size="48.5" class="b">5</text><text x="268.92" y="1059.8" font-size="48.5" class="b">0</text><text x="295.90" y="1059.8" font-size="48.5" class="b">0</text>
<text x="409.30" y="1059.8" font-size="48.5" class="b">3</text><text x="436.28" y="1059.8" font-size="48.5" class="b">0</text><text x="463.25" y="1059.8" font-size="48.5" class="b">0</text><text x="490.22" y="1059.8" font-size="48.5" class="b">0</text>
<text x="603.63" y="1059.8" font-size="48.5" class="b">2</text><text x="630.60" y="1059.8" font-size="48.5" class="b">5</text><text x="657.58" y="1059.8" font-size="48.5" class="b">0</text><text x="684.55" y="1059.8" font-size="48.5" class="b">0</text>
<text x="797.95" y="1059.8" font-size="48.5" class="b">2</text><text x="824.93" y="1059.8" font-size="48.5" class="b">0</text><text x="851.90" y="1059.8" font-size="48.5" class="b">0</text><text x="878.87" y="1059.8" font-size="48.5" class="b">0</text>
<path d="M885 0H604V1059Q450 915 241 846V1101Q351 1137 480 1237.5Q609 1338 657 1472H885Z" transform="translate(992.28,1059.8) scale(0.02368,-0.02368)" fill="#000"/><text x="1019.25" y="1059.8" font-size="48.5" class="b">5</text><text x="1046.22" y="1059.8" font-size="48.5" class="b">0</text><text x="1073.20" y="1059.8" font-size="48.5" class="b">0</text>
<path d="M885 0H604V1059Q450 915 241 846V1101Q351 1137 480 1237.5Q609 1338 657 1472H885Z" transform="translate(1186.60,1059.8) scale(0.02368,-0.02368)" fill="#000"/><text x="1213.58" y="1059.8" font-size="48.5" class="b">0</text><text x="1240.55" y="1059.8" font-size="48.5" class="b">0</text><text x="1267.52" y="1059.8" font-size="48.5" class="b">0</text>
<text x="335.5" y="1147" font-size="80" class="b">Wavenumber (cm</text>
<text x="1002" y="1124.5" font-size="80" class="b">-</text>
<path d="M885 0H604V1059Q450 915 241 846V1101Q351 1137 480 1237.5Q609 1338 657 1472H885Z" transform="translate(1023.1,1122) scale(0.03906,-0.03906)" fill="#000"/>
<text x="1096" y="1147" font-size="80" text-anchor="end" class="b">)</text>
<text transform="translate(100.3,58) scale(0.86,1)" font-size="60" class="b">a</text>
<text x="100" y="129" font-size="63" class="b">b</text>
<text x="98.5" y="425" font-size="62" class="b">c</text>
<text x="97.5" y="520.75" font-size="48" class="b">d</text>
<text x="96.5" y="633" font-size="62" class="b">e</text>
<path d="M885 0H604V1059Q450 915 241 846V1101Q351 1137 480 1237.5Q609 1338 657 1472H885Z" transform="translate(897.71,525.2) scale(0.02410,-0.02295)" fill="#000"/><text transform="translate(925.15,525.2) scale(1.05,1)" font-size="47" class="b">6</text><text transform="translate(952.60,525.2) scale(1.05,1)" font-size="47" class="b">5</text><text transform="translate(980.05,525.2) scale(1.05,1)" font-size="47" class="b">6</text>
<path d="M885 0H604V1059Q450 915 241 846V1101Q351 1137 480 1237.5Q609 1338 657 1472H885Z" transform="translate(879.63,637) scale(0.02387,-0.02295)" fill="#000"/><text transform="translate(906.82,637) scale(1.04,1)" font-size="47" class="b">6</text><text transform="translate(934.00,637) scale(1.04,1)" font-size="47" class="b">5</text><text transform="translate(961.18,637) scale(1.04,1)" font-size="47" class="b">9</text>
<path d="M885 0H604V1059Q450 915 241 846V1101Q351 1137 480 1237.5Q609 1338 657 1472H885Z" transform="translate(885.83,794.3) scale(0.02387,-0.02295)" fill="#000"/><text transform="translate(913.02,794.3) scale(1.04,1)" font-size="47" class="b">6</text><text transform="translate(940.20,794.3) scale(1.04,1)" font-size="47" class="b">7</text><text transform="translate(967.38,794.3) scale(1.04,1)" font-size="47" class="b">5</text>
<path d="M985.6 445 V481.5" stroke="#000" stroke-width="2.8" fill="none"/><path d="M979 457.3 H992.2 L985.6 474 Z" fill="#000"/>
<path d="M981.8 587.8 H994.2 L988.6 610 L986.6 610 Z" fill="#000"/>
<path d="M978.6 707.5 V744.5" stroke="#000" stroke-width="2.8" fill="none"/><path d="M972 722 H985.2 L978.6 739 Z" fill="#000"/>
</svg>
</body></html>
